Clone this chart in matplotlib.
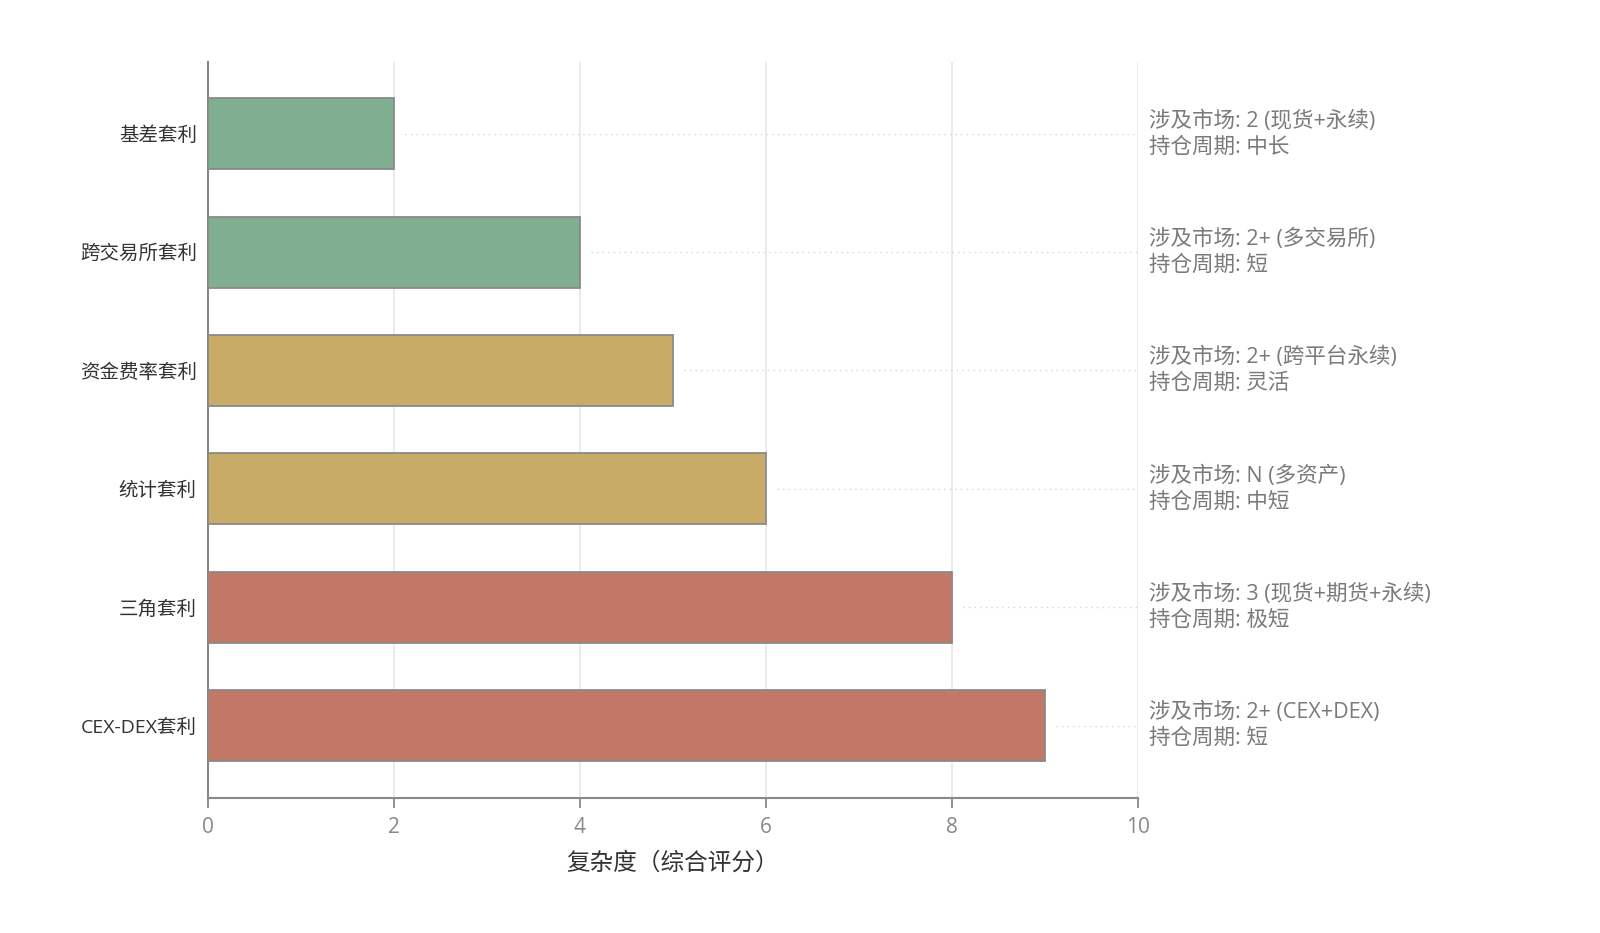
import matplotlib
matplotlib.use("Agg")
import matplotlib.pyplot as plt

plt.rcParams['font.family'] = ['Open Sans', 'Noto Sans CJK SC', 'DejaVu Sans']

# data
strategies = ['基差套利', '跨交易所套利', '资金费率套利', '统计套利', '三角套利', 'CEX-DEX套利']
complexity = [2, 4, 5, 6, 8, 9]
markets = ['2 (现货+永续)', '2+ (多交易所)', '2+ (跨平台永续)', 'N (多资产)',
           '3 (现货+期货+永续)', '2+ (CEX+DEX)']
holding = ['中长', '短', '灵活', '中短', '极短', '短']
bar_colors = ['#7fae91', '#7fae91', '#c8ab66', '#c8ab66', '#c27767', '#c27767']

fig = plt.figure(figsize=(16, 9.33), dpi=100)
ax = fig.add_axes([0.13, 0.145, 0.581, 0.789])

ypos = list(range(len(strategies)))
ax.barh(ypos, complexity, height=0.6, color=bar_colors,
        edgecolor='#8a8a8a', linewidth=1.3, zorder=3)

# dotted guide lines + annotations
for y, v, m, h in zip(ypos, complexity, markets, holding):
    ax.plot([v + 0.12, 10], [y, y], linestyle=(0, (1, 3)), color='#d5d5d5',
            linewidth=1, zorder=2)
    ax.annotate('涉及市场: ' + m + '\n持仓周期: ' + h, xy=(10, y),
                xytext=(8.5, 0), textcoords='offset points', ha='left', va='center',
                fontsize=15.5, color='#7a7a7a', linespacing=1.3,
                annotation_clip=False)

ax.set_xlim(0, 10)
ax.set_ylim(5.61, -0.61)
ax.set_xticks([0, 2, 4, 6, 8, 10])
ax.set_yticks(ypos)
ax.set_yticklabels(strategies, fontsize=14, color='#333333')
ax.tick_params(axis='y', length=0, pad=8)
ax.tick_params(axis='x', length=7, width=1.3, color='#888888', labelsize=15,
               labelcolor='#888888', pad=7)

ax.grid(axis='x', color='#e8e8e8', linewidth=1.2, zorder=0)
ax.set_axisbelow(True)
for s in ['top', 'right']:
    ax.spines[s].set_visible(False)
for s in ['left', 'bottom']:
    ax.spines[s].set_color('#888888')
    ax.spines[s].set_linewidth(1.5)

ax.set_xlabel('复杂度（综合评分）', fontsize=17, color='#333333', labelpad=10)

fig.savefig('out.png', dpi=100)
